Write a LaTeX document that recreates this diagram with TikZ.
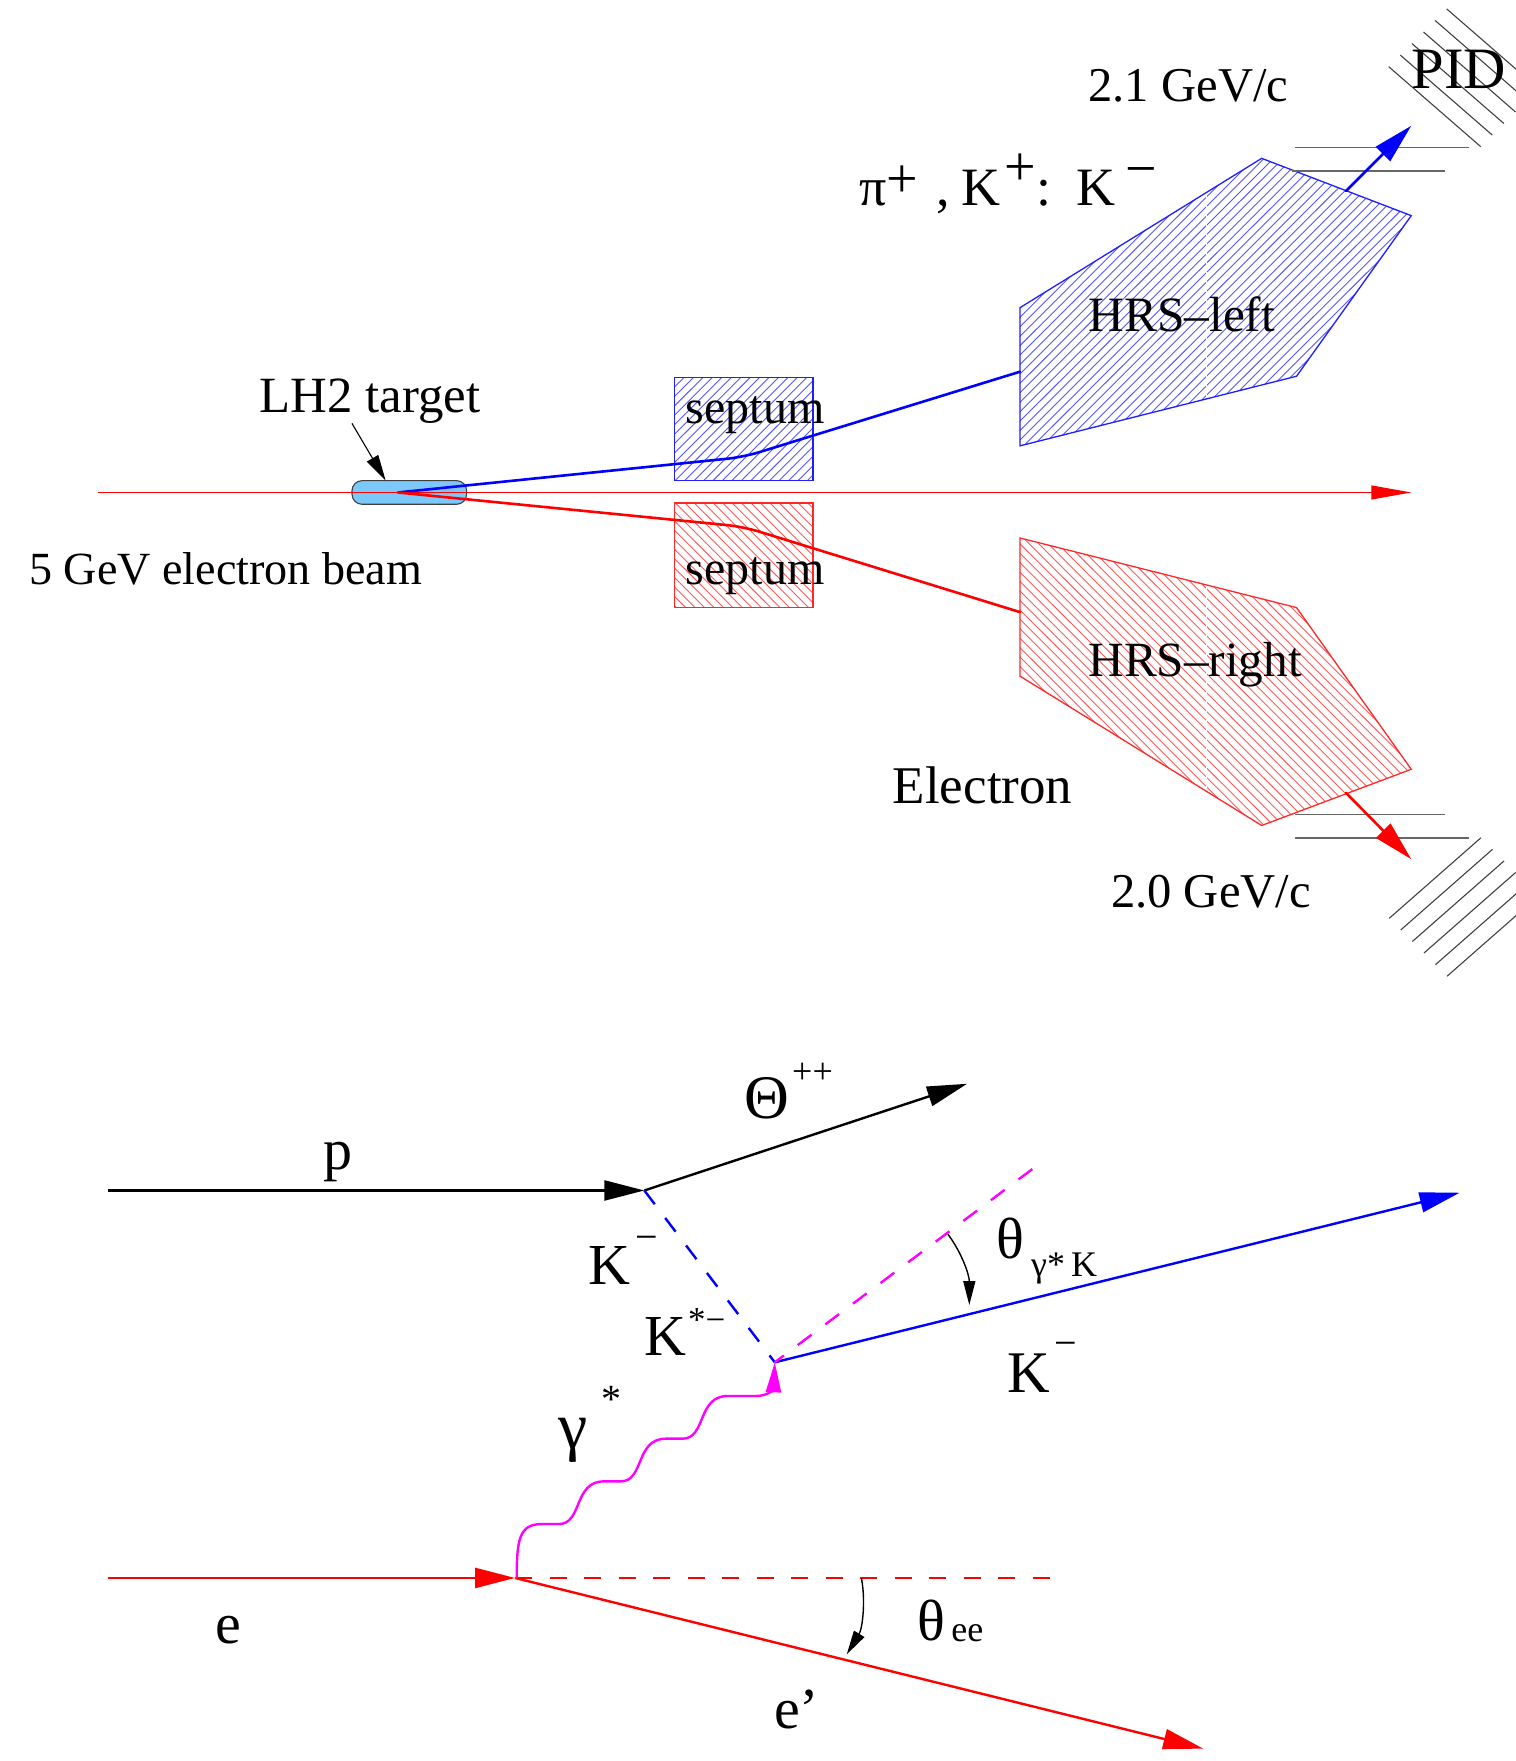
\documentclass[tikz,border=0pt]{standalone}
\usepackage{fontspec}
\setmainfont{Liberation Serif}
\usetikzlibrary{arrows.meta}
\newcommand{\fz}[1]{\fontsize{#1}{#1}\selectfont}
\definecolor{hatchblue}{RGB}{85,85,255}
\definecolor{hatchred}{RGB}{255,90,90}
\definecolor{edgeblue}{RGB}{30,30,255}
\definecolor{edgered}{RGB}{255,40,40}
\definecolor{targetfill}{RGB}{125,200,250}
\definecolor{wiremagenta}{RGB}{255,0,255}
\tikzset{
  lbl/.style={anchor=base west,inner sep=0pt,outer sep=0pt,text=black},
  thinbeam/.style={draw=red,line width=0.5pt},
  track/.style={line width=1.3pt,line cap=round},
  grayline/.style={draw=black!60,line width=0.7pt},
  pidline/.style={draw=black!75,line width=0.55pt},
  bighead/.style={-{Triangle[length=20pt,width=10pt]}},
  smallhead/.style={-{Triangle[length=12pt,width=6pt]}},
  feyn/.style={line width=1.2pt},
  feyndash/.style={line width=1.2pt,dash pattern=on 8.6pt off 8.65pt},
  hatchb/.style={draw=hatchblue,line width=0.45pt},
  hatchr/.style={draw=hatchred,line width=0.45pt},
}
\begin{document}
\begin{tikzpicture}[x=0.5622pt,y=-0.5615pt]
\useasboundingbox (0,0) rectangle (1347.4,1568);

% ---- hatched HRS and septum shapes
\coordinate (hl1) at (907,274); \coordinate (hl2) at (1122,141); \coordinate (hl3) at (1255,192);
\coordinate (hl4) at (1153,335); \coordinate (hl5) at (907,397);
\coordinate (hr1) at (907,602); \coordinate (hr2) at (1122,735); \coordinate (hr3) at (1255,685);
\coordinate (hr4) at (1153,541); \coordinate (hr5) at (907,479);

\begin{scope}
  \clip (hl1)--(hl2)--(hl3)--(hl4)--(hl5)--cycle;
  \foreach \c in {900,908.4,...,1800}{\draw[hatchb] (\c,130) -- (\c-280,410);}
  \draw[white,line width=0.5pt] (1073,130) -- (1073,410);
\end{scope}
\draw[draw=edgeblue,line width=0.65pt] (hl1)--(hl2)--(hl3)--(hl4)--(hl5)--cycle;

\begin{scope}
  \clip (hr1)--(hr2)--(hr3)--(hr4)--(hr5)--cycle;
  \foreach \c in {900,908.4,...,1800}{\draw[hatchr] (\c,746) -- (\c-280,466);}
  \draw[white,line width=0.5pt] (1073,466) -- (1073,746);
\end{scope}
\draw[draw=edgered,line width=0.65pt] (hr1)--(hr2)--(hr3)--(hr4)--(hr5)--cycle;

\begin{scope}
  \clip (600,336) rectangle (723,428);
  \foreach \c in {600,608.4,...,830}{\draw[hatchb] (\c,336) -- (\c-92,428);}
\end{scope}
\draw[draw=edgeblue,line width=0.65pt] (600,336) rectangle (723,428);
\begin{scope}
  \clip (600,448) rectangle (723,541);
  \foreach \c in {500,508.4,...,730}{\draw[hatchr] (\c,448) -- (\c+93,541);}
\end{scope}
\draw[draw=edgered,line width=0.65pt] (600,448) rectangle (723,541);

% ---- PID hatching and gray planes
\foreach \i in {0,...,5}{
  \draw[pidline] (1235,59.4-10.3*\i) ++(10.3*\i,0) -- ++(81.8,71.2);
  \draw[pidline] (1235.4,817.7+10.3*\i) ++(10.3*\i,0) -- ++(81.5,-71.7);
}
\draw[grayline] (1152,131.3) -- (1306,131.3);
\draw[grayline] (1149,152.3) -- (1285,152.3);
\draw[grayline] (1152,725.3) -- (1285,725.3);
\draw[grayline] (1152,746.3) -- (1306,746.3);

% ---- target and beam
\node[draw=black!75,fill=targetfill,line width=0.55pt,rounded corners=5pt,minimum width=57.3pt,minimum height=11.8pt,inner sep=0pt] (target) at (364,438.5) {};
\coordinate (beamstart) at (87,438.5);
\coordinate (beamend) at (1255,438.5);
\coordinate (vertex) at (354,438.5);
\draw[thinbeam,-{Triangle[length=20pt,width=7pt]}] (beamstart) -- (beamend);
\coordinate (bbend) at (661,407); \coordinate (blend) at (907,331);
\coordinate (rbend) at (661,469); \coordinate (rlend) at (907,545);
\draw[track,blue,rounded corners=8pt] (vertex) -- (bbend) -- (blend);
\draw[track,red,rounded corners=8pt] (vertex) -- (rbend) -- (rlend);
\coordinate (lhlabel) at (313,377); \coordinate (lhtip) at (343,428);
\draw[black,line width=0.55pt,-{Triangle[length=13pt,width=6.5pt]}] (lhlabel) -- (lhtip);

\coordinate (barrs) at (1197,170); \coordinate (barre) at (1255,112);
\coordinate (rarrs) at (1197,706); \coordinate (rarre) at (1255,765);
\draw[track,blue,bighead] (barrs) -- (barre);
\draw[track,red,bighead] (rarrs) -- (rarre);

% ---- top labels
\node[lbl] (t1) at (968,90) {\fz{24.3}2.1 GeV/c};
\node[lbl] (t2) at (1255.5,79) {\fz{29.3}PID};
\node[lbl] (t3) at (764,183) {\fz{27}π\raisebox{4pt}{\fz{28}+}\hspace{2.5pt} ,\hspace{0.22em}K\raisebox{10pt}{\fz{28}\hspace{0.06em}+}\hspace{0.02em}:\hspace{0.46em}K\raisebox{9pt}{\fz{28}\,−}};
\node[lbl] (t4) at (231,367) {\fz{25.4}LH2 target};
\node[lbl] (t5) at (26,520.5) {\fz{23.05}5 GeV electron beam};
\node[lbl] (t6) at (610,377.5) {\fz{24}septum};
\node[lbl] (t7) at (610,520.5) {\fz{24}septum};
\node[lbl] (t8) at (968,295) {\fz{24.7}HRS–left};
\node[lbl] (t9) at (968,602) {\fz{24.6}HRS–right};
\node[lbl] (t10) at (794,715) {\fz{26.5}Electron};
\node[lbl] (t11) at (988,808) {\fz{24.3}2.0 GeV/c};

% ---- Feynman diagram
\coordinate (ps) at (96,1060); \coordinate (pv) at (573,1060); \coordinate (theta) at (860,965);
\coordinate (kv) at (689,1213); \coordinate (kend) at (1298,1062); \coordinate (gend) at (918,1041);
\coordinate (es) at (96,1405); \coordinate (ev) at (458,1405); \coordinate (dend) at (935,1405);
\coordinate (eend) at (1070,1557);
\draw[feyn,black,bighead] (ps) -- (pv);
\draw[feyn,black,bighead] (pv) -- (theta);
\draw[feyndash,blue] (pv) -- (kv);
\draw[feyn,blue,bighead] (kv) -- (kend);
\draw[feyndash,wiremagenta] (gend) -- (kv);
\draw[feyn,red,bighead] (es) -- (ev);
\draw[feyndash,red] (ev) -- (dend);
\draw[feyn,red,bighead] (ev) -- (eend);

\coordinate (wstart) at (459.5,1405);
\draw[feyn,wiremagenta,-{Triangle[length=15pt,width=7.5pt]}] (wstart) .. controls (459.5,1370) and (462,1357) .. (482,1357)
  -- (497,1357) .. controls (518,1357) and (510,1319) .. (537,1319)
  -- (552,1319) .. controls (573,1319) and (565,1281) .. (592,1281)
  -- (607,1281) .. controls (628,1281) and (620,1243) .. (647,1243)
  -- (672,1243) .. controls (684,1243) and (688,1236) .. (kv);

\coordinate (a1s) at (843,1099); \coordinate (a1e) at (862,1162);
\coordinate (a2s) at (766,1405); \coordinate (a2e) at (753,1473);
\draw[black,line width=0.7pt,smallhead] (a1s) .. controls (855,1115) and (862,1135) .. (a1e);
\draw[black,line width=0.7pt,smallhead] (a2s) .. controls (770,1425) and (767,1450) .. (a2e);

\node[lbl] (f1) at (662.5,996) {\fz{31}Θ};
\node[lbl] (f1b) at (704.5,965) {\fz{18}++};
\node[lbl] (f2) at (287.5,1041) {\fz{29}p};
\node[lbl] (f3) at (523,1144) {\fz{29}K};
\node[lbl] (f3b) at (565,1113) {\fz{20}−};
\node[lbl] (f4) at (573,1207) {\fz{29}K};
\node[lbl] (f4b) at (612,1186) {\fz{17.5}*−};
\node[lbl] (f5) at (497,1290) {\fz{33}γ};
\node[lbl] (f5b) at (535,1258) {\fz{20}*};
\node[lbl] (f6) at (886,1121) {\fz{29}θ};
\node[lbl] (f6b) at (917,1137) {\fz{18}γ*\,K};
\node[lbl] (f7) at (896,1240) {\fz{29.5}K};
\node[lbl] (f7b) at (938,1208) {\fz{20}−};
\node[lbl] (f8) at (192,1463) {\fz{29}e};
\node[lbl] (f9) at (816,1461) {\fz{29}θ};
\node[lbl] (f9b) at (846,1462) {\fz{18}ee};
\node[lbl] (f10) at (688.5,1539) {\fz{29}e’};
\end{tikzpicture}
\end{document}
